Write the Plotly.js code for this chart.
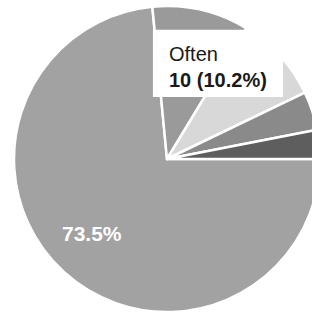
<!DOCTYPE html>
<html>
<head>
<meta charset="utf-8">
<script src="https://cdn.plot.ly/plotly-3.0.1.min.js"></script>
<style>
  html, body { margin: 0; padding: 0; width: 312px; height: 316px; overflow: hidden; background: #ffffff; }
  #chart { position: absolute; left: 14px; top: 6px; width: 306px; height: 306px; }
</style>
</head>
<body>
<div id="chart"></div>
<script>
// Data
var categories = ["Never", "Often", "Sometimes", "Rarely", "Always"];
var counts = [72, 10, 9, 4, 3];
var sliceColors = ["#a2a2a2", "#9a9a9a", "#d8d8d8", "#8a8a8a", "#5e5e5e"];
var mainIndex = 0;
var calloutIndex = 1;

var total = counts.reduce(function (a, b) { return a + b; }, 0);
function pct(i) { return (counts[i] / total * 100).toFixed(1) + "%"; }

var trace = {
  type: "pie",
  labels: categories,
  values: counts,
  sort: false,
  direction: "clockwise",
  rotation: 90,
  marker: { colors: sliceColors, line: { color: "#ffffff", width: 2.5 } },
  textinfo: "none",
  hoverinfo: "none",
  domain: { x: [0, 1], y: [0, 1] }
};

var layout = {
  width: 306,
  height: 306,
  margin: { l: 0, r: 0, t: 0, b: 0 },
  showlegend: false,
  paper_bgcolor: "#ffffff",
  shapes: [{
    type: "rect", xref: "paper", yref: "paper",
    x0: 0.454, x1: 0.879, y0: 0.703, y1: 0.922,
    fillcolor: "#ffffff", line: { width: 0 }, layer: "above"
  }],
  annotations: [{
    xref: "paper", yref: "paper", x: 0.5, y: 0.801,
    xanchor: "left", yanchor: "middle", align: "left",
    showarrow: false,
    text: categories[calloutIndex] + "<br><b>" + counts[calloutIndex] + " (" + pct(calloutIndex) + ")</b>",
    font: { family: "Arial, 'Liberation Sans', sans-serif", size: 20, color: "#1a1a1a" }
  }, {
    xref: "paper", yref: "paper", x: 0.255, y: 0.255,
    xanchor: "center", yanchor: "middle",
    showarrow: false,
    text: "<b>" + pct(mainIndex) + "</b>",
    font: { family: "Arial, 'Liberation Sans', sans-serif", size: 21, color: "#ffffff" }
  }]
};

Plotly.newPlot("chart", [trace], layout, { displayModeBar: false, staticPlot: true });
</script>
</body>
</html>
